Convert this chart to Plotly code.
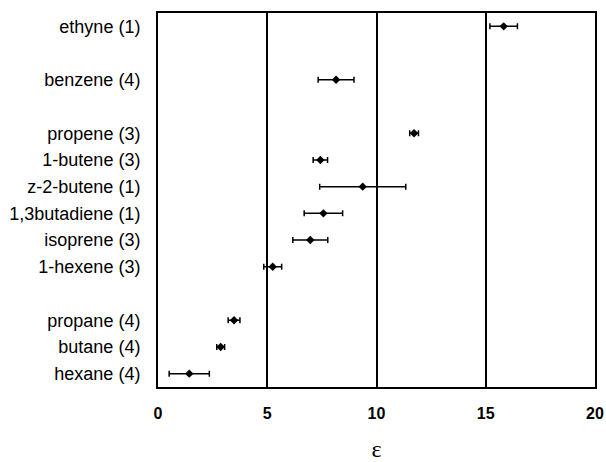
import plotly.graph_objects as go

# Data grouped (gaps between groups on the axis)
group_alkyne = ["ethyne (1)"]
group_aromatic = ["benzene (4)"]
group_alkene = ["propene (3)", "1-butene (3)", "z-2-butene (1)",
                "1,3butadiene (1)", "isoprene (3)", "1-hexene (3)"]
group_alkane = ["propane (4)", "butane (4)", "hexane (4)"]

eps_alkyne = [15.82]
eps_aromatic = [8.15]
eps_alkene = [11.72, 7.43, 9.37, 7.57, 6.97, 5.25]
eps_alkane = [3.48, 2.87, 1.43]

err_alkyne = [0.63]
err_aromatic = [0.82]
err_alkene = [0.20, 0.33, 1.97, 0.88, 0.80, 0.41]
err_alkane = [0.27, 0.18, 0.92]

x_ticks = [0, 5, 10, 15, 20]

groups = [(group_alkyne, eps_alkyne, err_alkyne),
          (group_aromatic, eps_aromatic, err_aromatic),
          (group_alkene, eps_alkene, err_alkene),
          (group_alkane, eps_alkane, err_alkane)]

labels, vals, errs, pos = [], [], [], []
slot = 0
for names, v, e in groups:
    for n, vv, ee in zip(names, v, e):
        labels.append(n); vals.append(vv); errs.append(ee); pos.append(slot)
        slot += 1
    slot += 1
n_slots = slot - 1

fig = go.Figure()
fig.add_trace(go.Scatter(
    x=vals, y=pos, mode="markers",
    marker=dict(symbol="diamond", size=6.5, color="black"),
    error_x=dict(type="data", array=errs, visible=True, color="black",
                 thickness=1.5, width=3),
    showlegend=False,
    cliponaxis=False,
))

fig.update_layout(
    width=606, height=462,
    margin=dict(l=158, r=11, t=13, b=75),
    paper_bgcolor="white", plot_bgcolor="white",
    font=dict(family="Liberation Sans, Arial, sans-serif", color="black"),
    xaxis=dict(
        range=[0, 20], tickvals=x_ticks, ticktext=[str(t) for t in x_ticks],
        showgrid=True, gridcolor="black", gridwidth=1.5,
        showline=True, linecolor="black", linewidth=2, mirror=True,
        zeroline=False, ticks="", automargin=False,
        tickfont=dict(size=16, family="Liberation Sans, Arial, sans-serif", weight="bold"),
        ticklabelstandoff=11,
        title=dict(text="ε", font=dict(size=24, family="Liberation Serif, Times New Roman, serif"),
                   standoff=32),
    ),
    yaxis=dict(
        range=[n_slots - 0.5, -0.5], tickvals=pos, ticktext=labels,
        showgrid=False, zeroline=False, automargin=False,
        showline=True, linecolor="black", linewidth=2, mirror=True,
        ticks="", tickfont=dict(size=18),
        ticklabelstandoff=12,
    ),
)

fig.write_html("out.html", config={"displayModeBar": False},
               post_script="document.body.style.margin='0';document.body.style.padding='0';")
